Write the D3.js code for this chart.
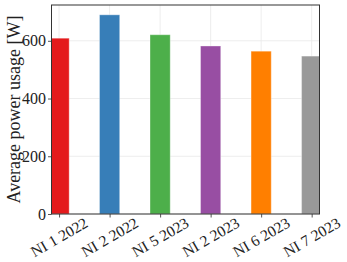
<!DOCTYPE html>
<html>
<head>
<meta charset="utf-8">
<script src="https://cdn.jsdelivr.net/npm/d3@7"></script>
<style>
  body { margin: 0; background: #fff; }
  text { font-family: "Liberation Serif", "Times New Roman", serif; fill: #222; }
</style>
</head>
<body>
<div id="viz"></div>
<script>
const categories = ['NI 1 2022', 'NI 2 2022', 'NI 5 2023', 'NI 2 2023', 'NI 6 2023', 'NI 7 2023'];
const values = [609, 690, 621, 582, 564, 547];
const colors = ['#e41a1c', '#377eb8', '#4daf4a', '#984ea3', '#ff7f00', '#999999'];
const yTicks = [0, 200, 400, 600];

const width = 347;
const height = 262;
const margin = { top: 5, right: 27.5, bottom: 48, left: 51.5 };

const svg = d3.select('#viz')
    .append('svg')
        .attr('width', width)
        .attr('height', height);

// bar positions as an index scale so the clipping at the ends matches
const x = d3.scaleLinear()
    .domain([-0.15, categories.length - 1 + 0.155])
    .range([margin.left, width - margin.right]);

const y = d3.scaleLinear()
    .domain([0, 724])
    .range([height - margin.bottom, margin.top]);

const barW = x(0.4) - x(0);

svg.append('clipPath').attr('id', 'plot')
    .append('rect')
        .attr('x', margin.left)
        .attr('y', margin.top)
        .attr('width', width - margin.left - margin.right)
        .attr('height', height - margin.top - margin.bottom);

// grid
const grid = svg.append('g').attr('stroke', '#e8e8e8').attr('stroke-width', 0.8);
grid.selectAll('.hg').data(yTicks).join('line')
    .attr('x1', margin.left).attr('x2', width - margin.right)
    .attr('y1', d => y(d)).attr('y2', d => y(d));
grid.selectAll('.vg').data(categories).join('line')
    .attr('x1', (d, i) => x(i)).attr('x2', (d, i) => x(i))
    .attr('y1', margin.top).attr('y2', height - margin.bottom);

// bars
svg.append('g').attr('clip-path', 'url(#plot)')
    .selectAll('rect').data(values).join('rect')
        .attr('x', (d, i) => x(i) - barW / 2)
        .attr('width', barW)
        .attr('y', d => y(d))
        .attr('height', d => y(0) - y(d))
        .attr('fill', (d, i) => colors[i])
        .attr('stroke', '#fff')
        .attr('stroke-opacity', 0.35)
        .attr('stroke-width', 1);

// y axis
const yAxis = svg.append('g')
    .attr('transform', `translate(${margin.left},0)`)
    .call(d3.axisLeft(y).tickValues(yTicks).tickSize(3.5).tickPadding(2));
yAxis.select('.domain').remove();
yAxis.selectAll('line').attr('stroke', '#555');
yAxis.selectAll('text').style('font-size', '16px').style('font-family', '"Liberation Serif", "Times New Roman", serif').attr('fill', '#222');

// x axis
const xAxis = svg.append('g')
    .attr('transform', `translate(0,${height - margin.bottom})`)
    .call(d3.axisBottom(x).tickValues(d3.range(categories.length)).tickSize(3.5).tickFormat(''));
xAxis.select('.domain').remove();
xAxis.selectAll('line').attr('stroke', '#555');

svg.append('g').selectAll('text').data(categories).join('text')
    .attr('transform', (d, i) => `translate(${x(i)},${height - margin.bottom + 23}) rotate(-30)`)
    .attr('text-anchor', 'middle')
    .attr('dominant-baseline', 'central')
    .style('font-size', '15.5px')
    .text(d => d);

// frame
svg.append('rect')
    .attr('x', margin.left).attr('y', margin.top)
    .attr('width', width - margin.left - margin.right)
    .attr('height', height - margin.top - margin.bottom)
    .attr('fill', 'none')
    .attr('stroke', '#333')
    .attr('stroke-width', 1);

// y label
svg.append('text')
    .attr('transform', `translate(14,${(margin.top + height - margin.bottom) / 2}) rotate(-90)`)
    .attr('text-anchor', 'middle')
    .attr('dominant-baseline', 'central')
    .style('font-size', '18px')
    .text('Average power usage [W]');
</script>
</body>
</html>
